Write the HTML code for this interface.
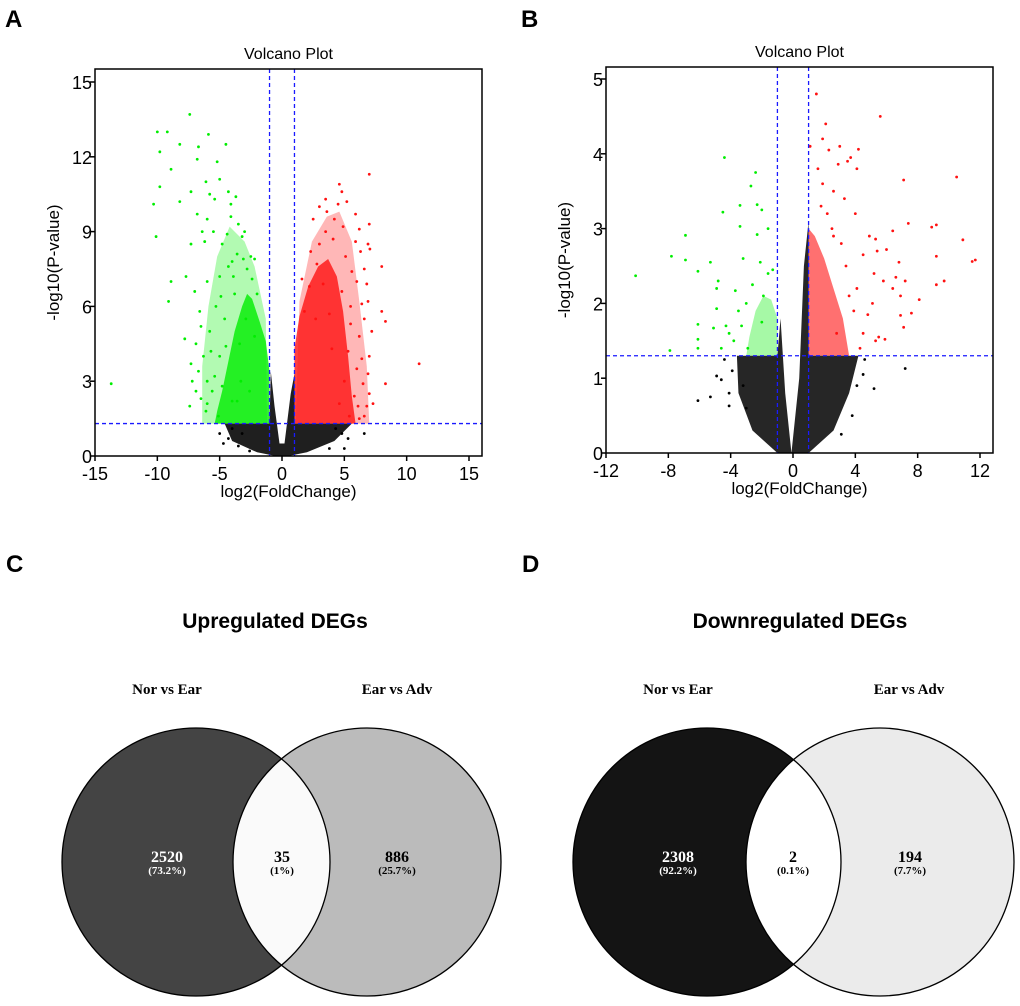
<!DOCTYPE html>
<html><head><meta charset="utf-8"><style>
body{margin:0;background:#fff;}
svg{display:block;}
text{font-family:"Liberation Sans",Arial,sans-serif;}
.serif{font-family:"Liberation Serif","Times New Roman",serif;font-weight:bold;}
</style></head><body>
<svg id="fig" width="1020" height="1006" viewBox="0 0 1020 1006" xmlns="http://www.w3.org/2000/svg">
<rect width="1020" height="1006" fill="#fff"/>
<text x="5" y="27" font-size="24" font-weight="bold">A</text>
<text x="521" y="27" font-size="24" font-weight="bold">B</text>
<text x="6" y="572" font-size="24" font-weight="bold">C</text>
<text x="522" y="572" font-size="24" font-weight="bold">D</text>
<g id="panelA"></g>
<g id="panelB"></g>

<g>
<text x="275" y="628" font-size="21" font-weight="bold" text-anchor="middle">Upregulated DEGs</text>
<text class="serif" x="167" y="694" font-size="15" text-anchor="middle">Nor vs Ear</text>
<text class="serif" x="397" y="694" font-size="15" text-anchor="middle">Ear vs Adv</text>
<defs><clipPath id="cL"><circle cx="196" cy="862" r="134"/></clipPath><clipPath id="dL"><circle cx="707" cy="862" r="134"/></clipPath></defs>
<circle cx="196" cy="862" r="134" fill="#444"/>
<circle cx="367" cy="862" r="134" fill="#bbb"/>
<circle cx="367" cy="862" r="134" fill="#fafafa" clip-path="url(#cL)"/>
<circle cx="196" cy="862" r="134" fill="none" stroke="#000" stroke-width="1.3"/>
<circle cx="367" cy="862" r="134" fill="none" stroke="#000" stroke-width="1.3"/>
<text class="serif" x="167" y="862" font-size="16" fill="#fff" text-anchor="middle">2520</text>
<text class="serif" x="167" y="874" font-size="11" fill="#fff" text-anchor="middle">(73.2%)</text>
<text class="serif" x="282" y="862" font-size="16" text-anchor="middle">35</text>
<text class="serif" x="282" y="874" font-size="11" text-anchor="middle">(1%)</text>
<text class="serif" x="397" y="862" font-size="16" text-anchor="middle">886</text>
<text class="serif" x="397" y="874" font-size="11" text-anchor="middle">(25.7%)</text>
</g>

<g>
<text x="800" y="628" font-size="21" font-weight="bold" text-anchor="middle">Downregulated DEGs</text>
<text class="serif" x="678" y="694" font-size="15" text-anchor="middle">Nor vs Ear</text>
<text class="serif" x="909" y="694" font-size="15" text-anchor="middle">Ear vs Adv</text>
<circle cx="707" cy="862" r="134" fill="#141414"/>
<circle cx="880" cy="862" r="134" fill="#ebebeb"/>
<circle cx="880" cy="862" r="134" fill="#fff" clip-path="url(#dL)"/>
<circle cx="707" cy="862" r="134" fill="none" stroke="#000" stroke-width="1.3"/>
<circle cx="880" cy="862" r="134" fill="none" stroke="#000" stroke-width="1.3"/>
<text class="serif" x="678" y="862" font-size="16" fill="#fff" text-anchor="middle">2308</text>
<text class="serif" x="678" y="874" font-size="11" fill="#fff" text-anchor="middle">(92.2%)</text>
<text class="serif" x="793" y="862" font-size="16" text-anchor="middle">2</text>
<text class="serif" x="793" y="874" font-size="11" text-anchor="middle">(0.1%)</text>
<text class="serif" x="910" y="862" font-size="16" text-anchor="middle">194</text>
<text class="serif" x="910" y="874" font-size="11" text-anchor="middle">(7.7%)</text>
</g>
</svg>
<script>
// ---- Panel A data ----
const aXTicks = [-15,-10,-5,0,5,10,15];
const aYTicks = [0,3,6,9,12,15];
const aGreenCore = [[-1,1.3],[-1,3.4],[-1.3,4.6],[-1.8,5.4],[-2.4,6.3],[-2.8,6.5],[-3.2,6.0],[-3.8,5.0],[-4.3,3.8],[-4.8,2.6],[-5.2,1.8],[-5.4,1.3]];
const aGreenHalo = [[-1.2,1.3],[-1.3,5.5],[-2.2,7.6],[-3,8.6],[-4.2,9.2],[-5.2,8],[-5.9,6],[-6.4,3.6],[-6.4,1.3]];
const aRedCore = [[1,1.3],[1,4.3],[1.4,5.6],[2.1,6.8],[2.9,7.6],[3.7,7.9],[4.4,7.2],[4.9,5.8],[5.3,4],[5.6,2.4],[5.9,1.3]];
const aRedHalo = [[1.1,1.3],[1.4,6.2],[2.4,8.6],[3.6,9.6],[4.6,9.8],[5.6,8.6],[6.2,6.2],[6.8,3.6],[7,1.3]];
const aBlackCore = [[-4.6,1.3],[-1,1.3],[-0.9,3.4],[-0.6,2],[-0.2,0.5],[0.2,0.5],[0.7,2.5],[1,3.3],[1,1.3],[5.6,1.3],[4.2,0.6],[2,0.15],[0.5,0],[-0.5,0],[-2,0.15],[-4,0.6]];
const aGreen = [[-10,13],[-9.2,13],[-7.4,13.7],[-6.7,12.4],[-5.9,12.9],[-4.5,12.5],[-8.2,12.5],[-9.8,12.2],[-6.8,11.9],[-5.2,11.8],[-8.9,11.5],[-9.8,10.8],[-10.3,10.1],[-7.3,10.6],[-8.2,10.2],[-6.1,11],[-5.8,10.5],[-4.3,10.6],[-3.7,10.4],[-10.1,8.8],[-7.3,8.5],[-8.9,7],[-7.7,7.2],[-9.1,6.2],[-7.8,4.7],[-7.3,3.7],[-13.7,2.9],[-6.5,2.3],[-7.4,2],[-6.9,4.5],[-6,9.5],[-5.5,9],[-4.8,8.5],[-3.5,9.3],[-3.2,8.8],[-2.8,7.5],[-6.6,5.8],[-6,7],[-5,4],[-6,3],[-4,2.2],[-3,9],[-4,7.8],[-5.3,6],[-2,6.5],[-2.5,8],[-3.8,6.5],[-4.6,5.5],[-5.6,2.6],[-6.3,4],[-5,7.2],[-4.1,9.6],[-3.4,4.5],[-2.9,5.5],[-6.2,8.6],[-5.4,10.3],[-4.4,8.9],[-3.9,7.2],[-2.4,7.1],[-4.9,6.4],[-5.8,5],[-6.7,3.4],[-5.4,3.2],[-4.5,4.4],[-6.1,1.8],[-3.3,3],[-2.2,4.8],[-3.6,2.2],[-4.8,2.8],[-2.6,2.6],[-6.8,9.7],[-6.4,9],[-5,11.1],[-4.1,10.1],[-3.6,8.1],[-2.2,7.9],[-7,6.6],[-6.5,5.2],[-5.7,4.2],[-6,2.1],[-5.1,1.6],[-7.2,3],[-6.9,2.6],[-3.1,7.9],[-4.3,7.6]];
const aRed = [[7,11.3],[4.6,10.9],[4.8,10.6],[3.5,10.3],[4.5,10.1],[5.9,9.7],[6.2,9.1],[2.5,9.5],[4.2,9.5],[7,9.3],[6.9,8.5],[7.05,8.3],[6.3,8.2],[8,7.6],[8,5.8],[8.3,5.4],[11,3.7],[8.3,2.9],[7.3,2.1],[7,2.5],[6.6,1.6],[6.9,3.3],[7,4],[6.9,6.2],[6.8,6.9],[6,7],[5.5,5.3],[3,8.5],[3.5,9],[2.8,7.7],[5.5,6],[6.2,4.8],[6,3.5],[5.8,2.4],[3,10],[4.1,8.7],[5.1,8],[4.9,9.2],[5.6,7.4],[6.4,6.1],[6.5,2.9],[6.1,2],[5.3,4.2],[4.8,6.6],[3.8,5.7],[2.2,6.8],[1.8,5.8],[2.7,5.5],[3.3,6.9],[4,4.3],[5,3],[4.6,2.1],[5.4,1.6],[3.6,9.8],[5.2,10.2],[6.6,5.5],[6.4,3.9],[6.6,7.5],[5.9,8.6],[2.3,8.2],[1.6,7.1],[7.2,5],[6.2,1.5],[6.8,2]];
const aBlack = [[-5,0.9],[-4.3,0.7],[-4.7,0.5],[-3.5,0.4],[-3.2,0.9],[4.8,0.9],[6.6,0.9],[5,0.3],[5.3,0.7],[4.3,1.1],[-4,1.1],[3.8,0.3],[-2.6,0.2]];
// ---- Panel B data ----
const bXTicks = [-12,-8,-4,0,4,8,12];
const bYTicks = [0,1,2,3,4,5];
const bGreenCore = [[-1,1.3],[-1,1.8],[-1.4,2.05],[-1.9,2.1],[-2.4,1.9],[-2.8,1.55],[-3,1.3]];
const bRedCore = [[1,1.3],[1,3.0],[1.4,2.9],[2.0,2.6],[2.6,2.2],[3.2,1.8],[3.6,1.3]];
const bBlackCore = [[-3.6,1.3],[-1,1.3],[-0.8,1.8],[-0.5,0.8],[-0.1,0],[0.4,1],[0.7,2.5],[1,3.1],[1,1.3],[4.2,1.3],[3.6,0.8],[2.6,0.3],[1,0],[-1,0],[-2.6,0.3],[-3.5,0.8]];
const bGreen = [[-4.4,3.95],[-2.4,3.75],[-2.7,3.57],[-2.3,3.32],[-3.4,3.31],[-4.5,3.22],[-2,3.25],[-3.4,3.03],[-2.3,2.92],[-1.6,3.0],[-6.9,2.91],[-7.8,2.63],[-6.9,2.58],[-5.3,2.55],[-10.1,2.37],[-6.1,2.43],[-4.8,2.3],[-4.9,2.2],[-3.7,2.17],[-4.9,1.93],[-5.1,1.67],[-6.1,1.72],[-6.1,1.52],[-6.1,1.4],[-7.9,1.37],[-4.3,1.7],[-3.2,2.6],[-2.1,2.55],[-1.6,2.4],[-3.8,1.5],[-3.5,1.9],[-2.9,1.4],[-4.6,1.4],[-1.9,2.1],[-2.6,2.25],[-1.3,2.45],[-3.3,1.7],[-4.1,1.6],[-2.0,1.75],[-3.0,2.0]];
const bRed = [[1.5,4.8],[5.6,4.5],[2.1,4.4],[1.9,4.2],[2.3,4.05],[3,4.1],[4.2,4.06],[3.7,3.95],[1.1,4.1],[2.9,3.86],[1.6,3.8],[4.1,3.8],[3.5,3.9],[10.5,3.69],[7.1,3.65],[3.3,3.4],[2.6,3.5],[4,3.2],[7.4,3.07],[8.9,3.02],[9.2,3.05],[6.4,2.97],[4.9,2.9],[5.3,2.86],[10.9,2.85],[6,2.72],[5.4,2.7],[4.5,2.65],[9.2,2.63],[11.5,2.56],[11.7,2.58],[6.8,2.55],[7.2,2.3],[9.7,2.3],[9.2,2.25],[5.8,2.3],[6.6,2.35],[6.4,2.2],[5.2,2.4],[4.1,2.2],[6.9,2.1],[8.1,2.05],[5.1,2.0],[4.8,1.85],[7.6,1.87],[6.9,1.84],[7.1,1.68],[5.5,1.55],[5.9,1.52],[5.3,1.5],[4.5,1.6],[4.3,1.4],[3.6,2.1],[3.1,2.8],[2.6,2.9],[1.8,3.3],[2.2,3.2],[3.4,2.5],[2.8,1.6],[3.9,1.9],[1.9,3.6],[2.5,3.0]];
const bBlack = [[-4.4,1.25],[-4.9,1.03],[-4.6,0.98],[-6.1,0.7],[-5.3,0.75],[-4.1,0.8],[-4.1,0.63],[-3.2,0.9],[4.5,1.05],[5.2,0.86],[7.2,1.13],[4.6,1.25],[3.8,0.5],[4.1,0.9],[-3,0.6],[-3.9,1.1],[3.1,0.25]];

function makeVolcano(gid, box, xDom, yDom, xTicks, yTicks, thr, cores, coreOp, pts){
  const g = document.getElementById(gid);
  const NS = "http://www.w3.org/2000/svg";
  const sx = v => box.x0 + (v - xDom[0]) / (xDom[1]-xDom[0]) * box.xw;
  const sy = v => box.y0 - (v - yDom[0]) / (yDom[1]-yDom[0]) * box.yh;
  const el = (t, a) => { const e = document.createElementNS(NS, t); for (const k in a) e.setAttribute(k, a[k]); g.appendChild(e); return e; };
  const coreCols = ["#00ee00","#00ee00","#ff1111","#ff1111","#000"];
  const cols = ["#00ee00","#ff1111","#000"];
  cores.forEach((c, i) => {
    if (!c) return;
    const p = el("polygon", {points: c.map(d => sx(d[0]) + "," + sy(d[1])).join(" "), fill: coreCols[i], opacity: coreOp[i]});
    
    
  });
  pts.forEach((arr, i) => arr.forEach(d => {
    const c = el("circle", {cx: sx(d[0]), cy: sy(d[1]), r: 1.4, fill: cols[i]});
    
    
  }));
  const d1 = {stroke:"#1a1aff","stroke-width":1.3,"stroke-dasharray":"4,3",fill:"none"};
  let l = el("line", Object.assign({x1:box.L, x2:box.R, y1:sy(thr), y2:sy(thr)}, d1));
   
  [-1,1].forEach(v => {
    const ln = el("line", Object.assign({x1:sx(v), x2:sx(v), y1:box.T, y2:box.B}, d1));
    
    
  });
  const fr = el("rect", {x:box.L, y:box.T, width:box.R-box.L, height:box.B-box.T, fill:"none", stroke:"#000", "stroke-width":1.5});
   
  xTicks.forEach(v => {
    el("line", {x1:sx(v), x2:sx(v), y1:box.B, y2:box.B+5, stroke:"#000", "stroke-width":1.5});
    const t = el("text", {x:sx(v), y:box.B+24, "font-size":18, "text-anchor":"middle"});
    t.textContent = v;
     
  });
  yTicks.forEach(v => {
    el("line", {x1:box.L-5, x2:box.L, y1:sy(v), y2:sy(v), stroke:"#000", "stroke-width":1.5});
    const t = el("text", {x:box.L-3, y:sy(v)+7, "font-size":18, "text-anchor":"end"});
    t.textContent = v;
     
  });
  const cx = (box.L + box.R)/2, cy = (box.T + box.B)/2;
  const tt = el("text", {x:cx, y:box.T-10, "font-size":16, "text-anchor":"middle"}); tt.textContent = "Volcano Plot";
   
  const xt = el("text", {x:cx, y:box.B+41, "font-size":17, "text-anchor":"middle"}); xt.textContent = "log2(FoldChange)";
   
  const yt = el("text", {x:box.L-36, y:cy, "font-size":17, "text-anchor":"middle", transform:"rotate(-90 "+(box.L-36)+" "+cy+")"}); yt.textContent = "-log10(P-value)";
   
}
makeVolcano("panelA", {L:95,R:482,T:69,B:456,x0:95,xw:374,y0:456,yh:374}, [-15,15],[0,15], aXTicks, aYTicks, 1.3,
  [aGreenHalo,aGreenCore,aRedHalo,aRedCore,aBlackCore],[0.3,0.8,0.3,0.8,0.88],[aGreen,aRed,aBlack]);
makeVolcano("panelB", {L:606,R:993,T:67,B:453,x0:606,xw:374,y0:453,yh:374}, [-12,12],[0,5], bXTicks, bYTicks, 1.3,
  [null,bGreenCore,null,bRedCore,bBlackCore],[0,0.35,0,0.6,0.85],[bGreen,bRed,bBlack]);
</script>
</body></html>
